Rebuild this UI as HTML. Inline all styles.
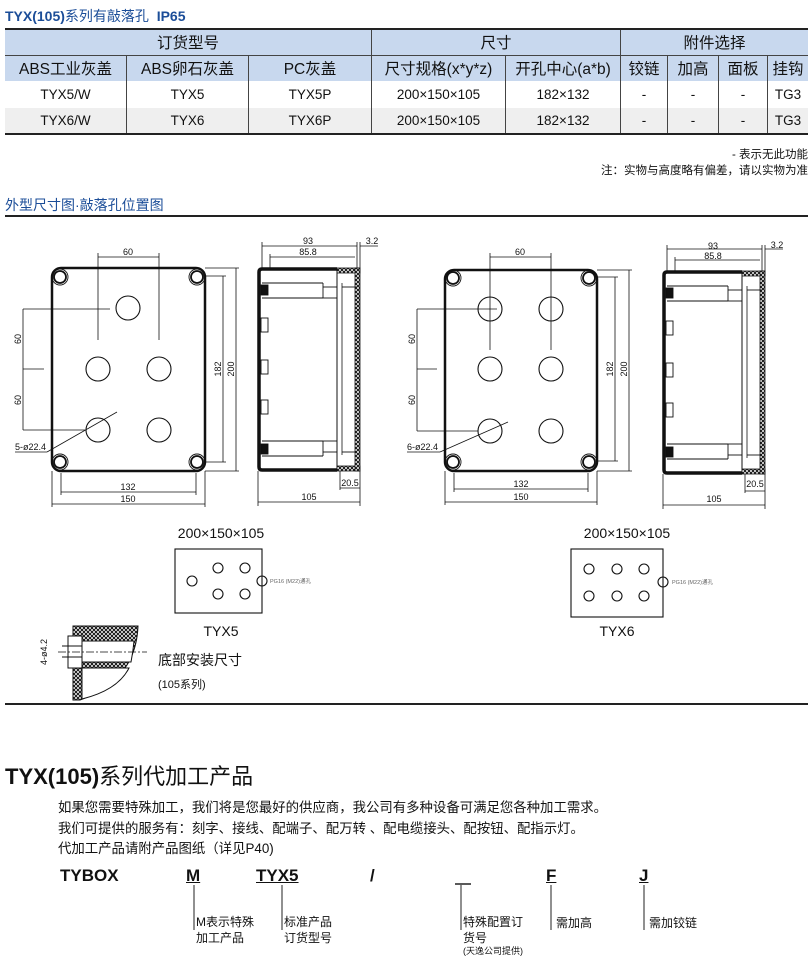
<!DOCTYPE html>
<html><head><meta charset="utf-8">
<style>
html,body{margin:0;padding:0;background:#fff;}
body{width:811px;height:969px;position:relative;overflow:hidden;font-family:"Liberation Sans","Noto Sans CJK SC",sans-serif;color:#111;}
.abs{position:absolute;white-space:nowrap;}
table{position:absolute;left:5px;top:28px;border-collapse:collapse;width:803px;font-size:14px;}
td{text-align:center;padding:0;border-left:1px solid #444;}
td:first-child{border-left:none;}
</style></head><body>
<div class="abs" style="left:5px;top:6px;font-size:14px;color:#1b4d98;"><b>TYX(105)</b>系列有敲落孔&nbsp; <b>IP65</b></div>
<table>
<tr style="height:26px;background:#c8d8ee;font-size:15.5px;border-top:2px solid #222;"><td colspan="3">订货型号</td><td colspan="2">尺寸</td><td colspan="4">附件选择</td></tr>
<tr style="height:26px;background:#c8d8ee;font-size:15.5px;border-top:1px solid #444;"><td style="width:121px">ABS工业灰盖</td><td style="width:121px">ABS卵石灰盖</td><td style="width:122px">PC灰盖</td><td style="width:133px">尺寸规格(x*y*z)</td><td style="width:114px">开孔中心(a*b)</td><td style="width:46px">铰链</td><td style="width:50px">加高</td><td style="width:48px">面板</td><td>挂钩</td></tr>
<tr style="height:27px;font-size:13.5px;"><td>TYX5/W</td><td>TYX5</td><td>TYX5P</td><td>200×150×105</td><td>182×132</td><td>-</td><td>-</td><td>-</td><td>TG3</td></tr>
<tr style="height:26px;font-size:13.5px;background:#efefef;border-bottom:2px solid #222;"><td>TYX6/W</td><td>TYX6</td><td>TYX6P</td><td>200×150×105</td><td>182×132</td><td>-</td><td>-</td><td>-</td><td>TG3</td></tr>
</table>
<div class="abs" style="right:3px;top:146px;font-size:11.5px;">- 表示无此功能</div>
<div class="abs" style="right:3px;top:162px;font-size:11.5px;">注：实物与高度略有偏差，请以实物为准</div>
<div class="abs" style="left:5px;top:195px;font-size:14px;color:#1b4d98;">外型尺寸图·敲落孔位置图</div>

<svg class="abs" style="left:0;top:0" width="811" height="969" xmlns="http://www.w3.org/2000/svg" font-family="Liberation Sans, sans-serif">
<defs>
<pattern id="h" width="4" height="4" patternUnits="userSpaceOnUse"><rect width="4" height="4" fill="#fff"/><path d="M0 0L4 4M4 0L0 4" stroke="#111" stroke-width="1"/></pattern>
</defs>
<line x1="5" y1="216" x2="808" y2="216" stroke="#222" stroke-width="2"/>
<line x1="5" y1="704" x2="808" y2="704" stroke="#222" stroke-width="2"/>

<!-- FRONT 1 -->
<g fill="none" stroke="#111">
<rect x="52" y="268" width="153" height="203" rx="9" stroke-width="2.5"/>
<g stroke-width="1.8"><circle cx="60" cy="277" r="6"/><circle cx="197" cy="277" r="6"/><circle cx="60" cy="462" r="6"/><circle cx="197" cy="462" r="6"/></g>
<g stroke-width="0.9"><circle cx="60" cy="277" r="8"/><circle cx="197" cy="277" r="8"/><circle cx="60" cy="462" r="8"/><circle cx="197" cy="462" r="8"/></g>
<g stroke-width="1.1"><circle cx="128" cy="308" r="12"/><circle cx="98" cy="369" r="12"/><circle cx="159" cy="369" r="12"/><circle cx="98" cy="430" r="12"/><circle cx="159" cy="430" r="12"/></g>
<g stroke-width="0.8">
<line x1="98" y1="253" x2="98" y2="340"/><line x1="159" y1="253" x2="159" y2="340"/><line x1="98" y1="257" x2="159" y2="257"/>
<line x1="23" y1="309" x2="23" y2="430"/><line x1="23" y1="309" x2="110" y2="309"/><line x1="23" y1="369" x2="44" y2="369"/><line x1="23" y1="430" x2="85" y2="430"/>
<line x1="205" y1="276" x2="226" y2="276"/><line x1="205" y1="462" x2="226" y2="462"/><line x1="223" y1="276" x2="223" y2="462"/>
<line x1="205" y1="268" x2="239" y2="268"/><line x1="205" y1="471" x2="239" y2="471"/><line x1="236" y1="268" x2="236" y2="471"/>
<line x1="61" y1="473" x2="61" y2="495"/><line x1="196" y1="473" x2="196" y2="495"/><line x1="61" y1="492" x2="196" y2="492"/>
<line x1="52" y1="471" x2="52" y2="507"/><line x1="205" y1="471" x2="205" y2="507"/><line x1="52" y1="504" x2="205" y2="504"/>
<line x1="15" y1="452" x2="47" y2="452"/><line x1="47" y1="452" x2="117" y2="412"/>
</g></g>
<g font-size="9" fill="#111">
<text x="128" y="255" text-anchor="middle">60</text>
<text x="128" y="490" text-anchor="middle">132</text>
<text x="128" y="502" text-anchor="middle">150</text>
<text x="15" y="450">5-ø22.4</text>
<text transform="translate(21,339) rotate(-90)" text-anchor="middle">60</text>
<text transform="translate(21,400) rotate(-90)" text-anchor="middle">60</text>
<text transform="translate(221,369) rotate(-90)" text-anchor="middle">182</text>
<text transform="translate(234,369) rotate(-90)" text-anchor="middle">200</text>
</g>

<!-- SIDE 1 -->
<g id="side1" fill="none" stroke="#111">
<rect x="337" y="268" width="23" height="5" fill="url(#h)" stroke-width="0.8"/>
<rect x="337" y="466" width="23" height="5" fill="url(#h)" stroke-width="0.8"/>
<rect x="355" y="268" width="5" height="203" fill="url(#h)" stroke-width="0.8"/>
<path d="M337 269H262Q259 269 259 272V467Q259 470 262 470H337" stroke-width="3.5"/>
<line x1="337" y1="270" x2="337" y2="468" stroke-width="1"/>
<line x1="342" y1="283" x2="342" y2="455" stroke-width="0.8"/>
<g stroke-width="0.9">
<line x1="262" y1="283" x2="323" y2="283"/><line x1="262" y1="298" x2="323" y2="298"/><line x1="323" y1="283" x2="323" y2="298"/><line x1="323" y1="287" x2="337" y2="287"/><line x1="323" y1="298" x2="337" y2="298"/><line x1="342" y1="287" x2="357" y2="287"/>
<line x1="262" y1="441" x2="323" y2="441"/><line x1="262" y1="456" x2="323" y2="456"/><line x1="323" y1="441" x2="323" y2="456"/><line x1="323" y1="441" x2="337" y2="441"/><line x1="323" y1="452" x2="337" y2="452"/><line x1="342" y1="452" x2="357" y2="452"/>
<rect x="261" y="318" width="7" height="14"/><rect x="261" y="360" width="7" height="14"/><rect x="261" y="400" width="7" height="14"/>
<rect x="261" y="285" width="7" height="10" fill="#111"/><rect x="261" y="444" width="7" height="10" fill="#111"/>
</g>
<g stroke-width="0.8">
<line x1="262" y1="242" x2="262" y2="268"/><line x1="357" y1="242" x2="357" y2="268"/><line x1="360" y1="242" x2="360" y2="268"/><line x1="270" y1="254" x2="270" y2="268"/>
<line x1="262" y1="246" x2="357" y2="246"/><line x1="270" y1="257" x2="355" y2="257"/><line x1="360" y1="246" x2="378" y2="246"/>
<line x1="258" y1="471" x2="258" y2="506"/><line x1="360" y1="471" x2="360" y2="506"/><line x1="258" y1="502" x2="360" y2="502"/>
<line x1="340" y1="471" x2="340" y2="490"/><line x1="340" y1="488" x2="360" y2="488"/>
</g></g>
<g font-size="9" fill="#111">
<text x="308" y="244" text-anchor="middle">93</text>
<text x="308" y="255" text-anchor="middle">85.8</text>
<text x="372" y="244" text-anchor="middle">3.2</text>
<text x="350" y="486" text-anchor="middle">20.5</text>
<text x="309" y="500" text-anchor="middle">105</text>
</g>

<!-- FRONT 2 -->
<g fill="none" stroke="#111">
<rect x="445" y="270" width="152" height="201" rx="9" stroke-width="2.5"/>
<g stroke-width="1.8"><circle cx="453" cy="278" r="6"/><circle cx="589" cy="278" r="6"/><circle cx="453" cy="462" r="6"/><circle cx="589" cy="462" r="6"/></g>
<g stroke-width="0.9"><circle cx="453" cy="278" r="8"/><circle cx="589" cy="278" r="8"/><circle cx="453" cy="462" r="8"/><circle cx="589" cy="462" r="8"/></g>
<g stroke-width="1.1"><circle cx="490" cy="309" r="12"/><circle cx="551" cy="309" r="12"/><circle cx="490" cy="369" r="12"/><circle cx="551" cy="369" r="12"/><circle cx="490" cy="431" r="12"/><circle cx="551" cy="431" r="12"/></g>
<g stroke-width="0.8">
<line x1="490" y1="253" x2="490" y2="350"/><line x1="551" y1="253" x2="551" y2="350"/><line x1="490" y1="257" x2="551" y2="257"/>
<line x1="417" y1="309" x2="417" y2="431"/><line x1="417" y1="309" x2="497" y2="309"/><line x1="417" y1="369" x2="437" y2="369"/><line x1="417" y1="431" x2="478" y2="431"/>
<line x1="597" y1="277" x2="618" y2="277"/><line x1="597" y1="461" x2="618" y2="461"/><line x1="615" y1="277" x2="615" y2="461"/>
<line x1="597" y1="270" x2="632" y2="270"/><line x1="597" y1="471" x2="632" y2="471"/><line x1="629" y1="270" x2="629" y2="471"/>
<line x1="454" y1="473" x2="454" y2="492"/><line x1="588" y1="473" x2="588" y2="492"/><line x1="454" y1="489" x2="588" y2="489"/>
<line x1="445" y1="471" x2="445" y2="505"/><line x1="597" y1="471" x2="597" y2="505"/><line x1="445" y1="502" x2="597" y2="502"/>
<line x1="407" y1="452" x2="440" y2="452"/><line x1="440" y1="452" x2="508" y2="422"/>
</g></g>
<g font-size="9" fill="#111">
<text x="520" y="255" text-anchor="middle">60</text>
<text x="521" y="487" text-anchor="middle">132</text>
<text x="521" y="500" text-anchor="middle">150</text>
<text x="407" y="450">6-ø22.4</text>
<text transform="translate(415,339) rotate(-90)" text-anchor="middle">60</text>
<text transform="translate(415,400) rotate(-90)" text-anchor="middle">60</text>
<text transform="translate(613,369) rotate(-90)" text-anchor="middle">182</text>
<text transform="translate(627,369) rotate(-90)" text-anchor="middle">200</text>
</g>

<!-- SIDE 2 -->
<use href="#side1" transform="translate(405,3)"/>
<g font-size="9" fill="#111">
<text x="713" y="249" text-anchor="middle">93</text>
<text x="713" y="259" text-anchor="middle">85.8</text>
<text x="777" y="248" text-anchor="middle">3.2</text>
<text x="755" y="487" text-anchor="middle">20.5</text>
<text x="714" y="502" text-anchor="middle">105</text>
</g>

<!-- small boxes -->
<g fill="none" stroke="#111" stroke-width="1.1">
<rect x="175" y="549" width="87" height="64"/>
<circle cx="192" cy="581" r="5"/><circle cx="218" cy="568" r="5"/><circle cx="245" cy="568" r="5"/><circle cx="218" cy="594" r="5"/><circle cx="245" cy="594" r="5"/><circle cx="262" cy="581" r="5"/>
<rect x="571" y="549" width="92" height="68"/>
<circle cx="589" cy="569" r="5"/><circle cx="617" cy="569" r="5"/><circle cx="644" cy="569" r="5"/><circle cx="589" cy="596" r="5"/><circle cx="617" cy="596" r="5"/><circle cx="644" cy="596" r="5"/><circle cx="663" cy="582" r="5"/>
</g>
<g font-size="14" fill="#111" text-anchor="middle">
<text x="221" y="538">200×150×105</text><text x="221" y="636">TYX5</text>
<text x="627" y="538">200×150×105</text><text x="617" y="636">TYX6</text>
</g>
<g font-size="5.5" fill="#666" font-family="Liberation Sans, Noto Sans CJK SC, sans-serif">
<text x="270" y="583">PG16 (M22)通孔</text><text x="672" y="584">PG16 (M22)通孔</text>
</g>

<!-- section detail -->
<g stroke="#111" stroke-width="1">
<path d="M73 626H138Q136 680 80 700H73Z" fill="url(#h)"/>
<path d="M82 641H134Q133 652 131 662H82Z" fill="#fff"/>
<path d="M82 668H129Q118 690 82 699Z" fill="#fff"/>
<rect x="68" y="636" width="14" height="32" fill="#fff"/>
<line x1="62" y1="646" x2="82" y2="646"/><line x1="62" y1="657" x2="82" y2="657"/>
<line x1="58" y1="652" x2="147" y2="652" stroke-dasharray="8,2,2,2" stroke-width="0.8"/>
</g>
<text transform="translate(47,652) rotate(-90)" font-size="9" text-anchor="middle" fill="#111">4-ø4.2</text>
</svg>
<div class="abs" style="left:158px;top:650px;font-size:14px;">底部安装尺寸</div>
<div class="abs" style="left:158px;top:676px;font-size:11px;">(105系列)</div>

<div class="abs" style="left:5px;top:759px;font-size:22px;"><b>TYX(105)</b>系列代加工产品</div>
<div class="abs" style="left:58px;top:798px;font-size:13.4px;line-height:20.7px;">如果您需要特殊加工，我们将是您最好的供应商，我公司有多种设备可满足您各种加工需求。<br>我们可提供的服务有：刻字、接线、配端子、配万转 、配电缆接头、配按钮、配指示灯。<br>代加工产品请附产品图纸（详见P40)</div>
<div class="abs" style="left:60px;top:866px;font-size:17px;font-weight:bold;">TYBOX</div>
<div class="abs" style="left:186px;top:866px;font-size:17px;font-weight:bold;text-decoration:underline;">M</div>
<div class="abs" style="left:256px;top:866px;font-size:17px;font-weight:bold;text-decoration:underline;">TYX5</div>
<div class="abs" style="left:370px;top:866px;font-size:17px;font-weight:bold;">/</div>
<div class="abs" style="left:546px;top:866px;font-size:17px;font-weight:bold;text-decoration:underline;">F</div>
<div class="abs" style="left:639px;top:866px;font-size:17px;font-weight:bold;text-decoration:underline;">J</div>
<svg class="abs" style="left:0;top:0" width="811" height="969"><g stroke="#222" stroke-width="1">
<line x1="455" y1="884" x2="471" y2="884" stroke-width="1.5"/>
<line x1="194" y1="885" x2="194" y2="930"/><line x1="282" y1="885" x2="282" y2="930"/><line x1="461" y1="885" x2="461" y2="930"/><line x1="551" y1="885" x2="551" y2="930"/><line x1="644" y1="885" x2="644" y2="930"/>
</g></svg>
<div class="abs" style="left:196px;top:914px;font-size:12px;line-height:16px;">M表示特殊<br>加工产品</div>
<div class="abs" style="left:284px;top:914px;font-size:12px;line-height:16px;">标准产品<br>订货型号</div>
<div class="abs" style="left:463px;top:914px;font-size:12px;line-height:16px;">特殊配置订<br>货号</div>
<div class="abs" style="left:463px;top:944px;font-size:9px;">(天逸公司提供)</div>
<div class="abs" style="left:556px;top:914px;font-size:12px;">需加高</div>
<div class="abs" style="left:649px;top:914px;font-size:12px;">需加铰链</div>
</body></html>
